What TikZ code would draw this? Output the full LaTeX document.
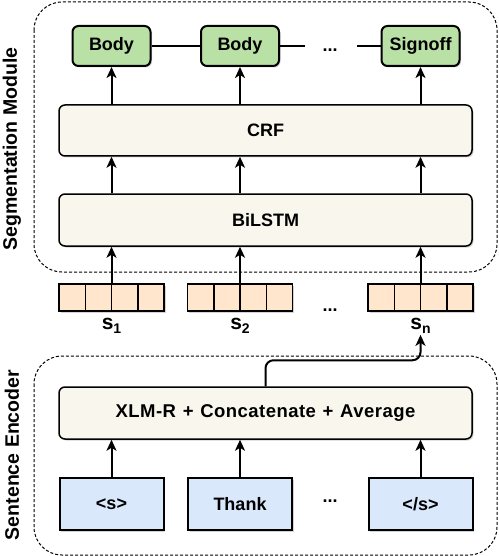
\documentclass[tikz,border=0pt]{standalone}
\usepackage{fontspec}
\setmainfont{Liberation Sans}
\newfontfamily\widesans[WordSpace=1.2,LetterSpace=2.5]{Liberation Sans}
\usetikzlibrary{arrows.meta,shadows}

\definecolor{greenfill}{HTML}{B9E0A5}
\definecolor{creamfill}{HTML}{F9F7ED}
\definecolor{peachfill}{HTML}{FFE6CC}
\definecolor{bluefill}{HTML}{DAE8FC}

\tikzset{
  lbl/.style={font=\fontsize{18}{20}\selectfont\bfseries},
  shad/.style={drop shadow={shadow xshift=1.5pt, shadow yshift=-1.5pt, opacity=0.35}},
  greenbox/.style={lbl, draw, line width=2pt, fill=greenfill, rounded corners=6pt,
    minimum width=78pt, minimum height=40pt, inner sep=0pt, shad},
  creambox/.style={lbl, draw, line width=1.5pt, fill=creamfill, rounded corners=6pt,
    minimum width=413pt, minimum height=51pt, inner sep=0pt, shad},
  tokbox/.style={lbl, draw, line width=2pt, fill=bluefill,
    minimum width=104pt, minimum height=52pt, inner sep=0pt, shad},
  cell/.style={draw, line width=1.5pt, fill=peachfill, minimum width=26.25pt,
    minimum height=27pt, inner sep=0pt, shad},
  vec/.style={minimum width=105pt, minimum height=27pt, inner sep=0pt},
  module/.style={draw, dashed, line width=1pt, dash pattern=on 3pt off 2pt, rounded corners=28pt},
  arr/.style={line width=2pt, -{Stealth[length=11pt, width=10pt, inset=3pt]}},
  conn/.style={line width=1.5pt},
  dots/.style={font=\fontsize{18}{20}\selectfont\bfseries, anchor=base, inner sep=0pt},
  side/.style={font=\fontsize{19.5}{21}\selectfont\bfseries, rotate=90, inner sep=0pt},
  slabel/.style={inner sep=1pt},
}

\begin{document}
\begin{tikzpicture}[x=1pt, y=-1pt]
\useasboundingbox (0,0) rectangle (498,556);

% module frames
\draw[module] (34,2) rectangle (497,272);
\draw[module] (34,356) rectangle (497,555);

\node[side] (segLabel) at (12,149) {Segmentation Module};
\node[side] (encLabel) at (12,455) {Sentence Encoder};

% output labels
\node[greenbox] (b1) at (111.5,46) {Body};
\node[greenbox] (b2) at (240,46) {Body};
\node[greenbox] (sg) at (420.5,46) {Signoff};
\coordinate (d1) at (305,46);
\coordinate (d2) at (357,46);
\node[dots] (topdots) at (330,52) {...};

\draw[conn] (b1.east) -- (b2.west);
\draw[conn] (b2.east) -- (d1);
\draw[conn] (d2) -- (sg.west);

% CRF and BiLSTM
\node[creambox] (crf) at (265.5,130.5) {CRF};
\node[creambox, minimum height=52pt] (bilstm) at (265.5,220) {BiLSTM};

\draw[arr] (crf.north -| b1.south) -- (b1.south);
\draw[arr] (crf.north -| b2.south) -- (b2.south);
\draw[arr] (crf.north -| sg.south) -- (sg.south);

\draw[arr] (bilstm.north -| b1.south) -- (crf.south -| b1.south);
\draw[arr] (bilstm.north -| b2.south) -- (crf.south -| b2.south);
\draw[arr] (bilstm.north -| sg.south) -- (crf.south -| sg.south);

% sentence vectors
\foreach \v/\cx in {1/111.5, 2/240, 3/420.5} {
  \foreach \i in {1,...,4} {
    \node[cell] (v\v c\i) at ({\cx - 52.5 + 26.25*\i - 13.125}, 297.5) {};
  }
  \node[vec] (v\v) at (\cx,297.5) {};
}
\node[dots] (middots) at (330,311) {...};

\node[slabel] (s1) at (111.5,326) {\fontsize{21}{21}\selectfont\bfseries s\raisebox{-4pt}{\fontsize{14}{14}\selectfont 1}};
\node[slabel] (s2) at (240,326) {\fontsize{21}{21}\selectfont\bfseries s\raisebox{-4pt}{\fontsize{14}{14}\selectfont 2}};
\node[slabel] (sn) at (420.5,326) {\fontsize{21}{21}\selectfont\bfseries s\raisebox{-4pt}{\fontsize{14}{14}\selectfont n}};

\draw[arr] (v1.north) -- (v1.north |- bilstm.south);
\draw[arr] (v2.north) -- (v2.north |- bilstm.south);
\draw[arr] (v3.north) -- (v3.north |- bilstm.south);

% encoder
\node[creambox, minimum height=52pt, font=\widesans\fontsize{18.5}{20}\selectfont\bfseries] (xlm) at (265.5,413) {XLM-R + Concatenate + Average};

\node[tokbox] (t1) at (111.5,504) {<s>};
\node[tokbox] (t2) at (240,504) {Thank};
\node[tokbox] (t3) at (420.5,504) {</s>};
\node[dots] (botdots) at (330,502) {...};

\draw[arr] (t1.north) -- (t1.north |- xlm.south);
\draw[arr] (t2.north) -- (t2.north |- xlm.south);
\draw[arr] (t3.north) -- (t3.north |- xlm.south);

\draw[arr, rounded corners=8pt] (xlm.north) -- ++(0,-26) -| (sn.south);
\end{tikzpicture}
\end{document}
